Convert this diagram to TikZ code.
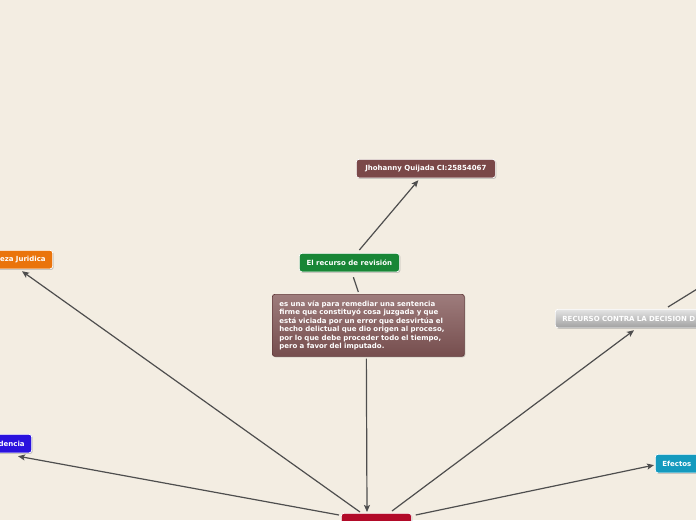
\documentclass[tikz,border=0pt]{standalone}
\usepackage{fontspec}
\setmainfont{DejaVu Sans}
\usetikzlibrary{arrows.meta,shadows,calc}
\definecolor{bg}{RGB}{243,237,226}
\definecolor{edgec}{RGB}{78,78,78}
\definecolor{jhoc}{RGB}{122,72,72}
\definecolor{revc}{RGB}{24,134,54}
\definecolor{desctop}{RGB}{158,124,124}
\definecolor{descbot}{RGB}{118,78,78}
\definecolor{descborder}{RGB}{98,58,58}
\definecolor{natc}{RGB}{234,116,12}
\definecolor{procc}{RGB}{42,18,222}
\definecolor{effc}{RGB}{20,154,190}
\definecolor{ctrc}{RGB}{178,10,40}
\definecolor{rectop}{RGB}{228,228,228}
\definecolor{recbot}{RGB}{160,160,160}
\tikzset{
  box/.style={draw=white, line width=0.7pt, rounded corners=2.5pt, text=white,
    font=\fontsize{7}{8.4}\selectfont\bfseries, inner xsep=7pt, inner ysep=0pt,
    minimum height=18.5pt,
    drop shadow={shadow xshift=1pt, shadow yshift=-1pt, opacity=0.35, fill=black!60}},
  edge/.style={draw=edgec, line width=1.2pt},
  arr/.style={edge, -{Stealth[length=7pt,width=6pt,inset=1.5pt]}}
}
\begin{document}
\begin{tikzpicture}[x=1pt,y=-1pt]
\useasboundingbox (0,0) rectangle (696,520);
\clip (0,0) rectangle (696,520);
\fill[bg] (0,0) rectangle (696,520);

% nodes
\node[box, fill=jhoc, anchor=north west, minimum width=139pt] (jho) at (356,159) {Jhohanny Quijada CI:25854067};
\node[box, fill=revc, anchor=north west, minimum width=100pt] (rev) at (299,253) {El recurso de revisión};
\node[box, draw=descborder, top color=desctop, bottom color=descbot, anchor=north west,
      minimum width=192pt, minimum height=62pt, text width=178pt, align=left,
      inner xsep=7pt, inner ysep=3pt] (desc) at (272,294)
  {es una vía para remediar una sentencia\\
   firme que constituyó cosa juzgada y que\\
   está viciada por un error que desvirtúa el\\
   hecho delictual que dio origen al proceso,\\
   por lo que debe proceder todo el tiempo,\\
   pero a favor del imputado.};
\node[box, fill=natc, anchor=north east, text width=70pt, align=right] (nat) at (53,250) {eza Juridica};
\node[box, fill=procc, anchor=north east, text width=50pt, align=right] (proc) at (32,434) {dencia};
\node[box, draw=white, top color=rectop, bottom color=recbot, anchor=north west,
      text width=170pt, align=left] (rec) at (555,309) {RECURSO CONTRA LA DECISION D};
\node[box, fill=effc, anchor=north west, text width=50pt, align=left] (eff) at (655,454) {Efectos};
\node[box, fill=ctrc, anchor=north west, minimum width=70pt, minimum height=30pt] (ctr) at (341,513) {};
\coordinate (recout) at (702,286);

% connectors
\draw[arr] ($(rev.north)+(10,-3)$) -- ($(jho.south)+(-7.5,2)$);
\draw[edge] ($(rev.south)+(4,5)$) -- ($(desc.north)+(-10,-2)$);
\draw[arr] ($(desc.south)+(-2,2)$) -- ($(ctr.north west)+(26,-1)$);
\draw[arr] ($(ctr.north west)+(19,-1)$) -- ($(nat.south east)+(-31,2)$);
\draw[arr] ($(ctr.north west)+(-2,2)$) -- ($(proc.south east)+(-14,3)$);
\draw[arr] ($(ctr.north west)+(51,-2)$) -- ($(rec.south west)+(79,2)$);
\draw[arr] ($(ctr.north east)+(4,2)$) -- ($(eff.west)+(-1,1.5)$);
\draw[edge] ($(rec.north west)+(113,-2)$) -- (recout);
\end{tikzpicture}
\end{document}
